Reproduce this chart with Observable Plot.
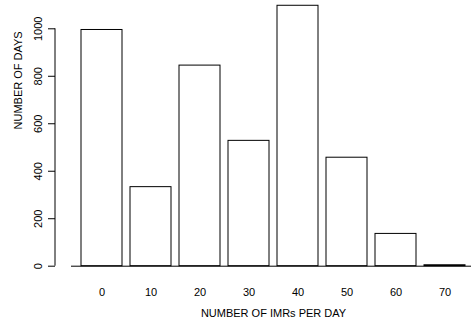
<!DOCTYPE html>
<html>
<head>
<meta charset="utf-8">
<script src="https://cdn.jsdelivr.net/npm/d3@7"></script>
<script src="https://cdn.jsdelivr.net/npm/@observablehq/plot@0.6"></script>
<style>
  body { margin: 0; background: #fff; }
</style>
</head>
<body>
<div id="chart"></div>
<script>
// Days observed for each count of IMRs per day
const imrsPerDay = ["0", "10", "20", "30", "40", "50", "60", "70"];
const numberOfDays = [995, 333, 845, 528, 1097, 457, 136, 4];
const yTicks = [0, 200, 400, 600, 800, 1000];
const xTitle = "NUMBER OF IMRs PER DAY";
const yTitle = "NUMBER OF DAYS";

const rows = imrsPerDay.map((imr, i) => ({imr, days: numberOfDays[i]}));

const W = 471, H = 321;
const marginLeft = 55;

const chart = Plot.plot({
  width: W,
  height: H,
  marginLeft,
  marginRight: 0,
  marginTop: 0,
  marginBottom: 55,
  style: {
    fontFamily: "'Liberation Sans', Arial, Helvetica, sans-serif",
    fontSize: "11px",
    color: "#000",
    background: "#fff",
    overflow: "visible"
  },
  x: {domain: imrsPerDay, range: [80, 466.5], paddingInner: 1 / 6, paddingOuter: 0},
  y: {domain: [0, 1000], range: [265.7, 28.3]},
  marks: [
    Plot.barY(rows, {x: "imr", y: "days", fill: "white", stroke: "black", strokeWidth: 1}),
    Plot.ruleY([0], {insetLeft: 16, stroke: "black"}),
    Plot.axisX({tickSize: 0, tickPadding: 22, label: null}),
    Plot.axisY({ticks: yTicks, tickFormat: d3.format("d"), tickSize: 7, tickRotate: -90, tickPadding: 7, label: null}),
    Plot.text([xTitle], {frameAnchor: "bottom", dx: 10, dy: 50}),
    Plot.text([yTitle], {frameAnchor: "left", rotate: -90, dx: -37, dy: -4})
  ]
});

// y axis line spanning the first to the last tick
const y = chart.scale("y");
d3.select(chart).append("line")
  .attr("x1", marginLeft).attr("x2", marginLeft)
  .attr("y1", y.apply(yTicks[0]))
  .attr("y2", y.apply(yTicks[yTicks.length - 1]))
  .attr("stroke", "black");

document.getElementById("chart").appendChild(chart);
</script>
</body>
</html>
